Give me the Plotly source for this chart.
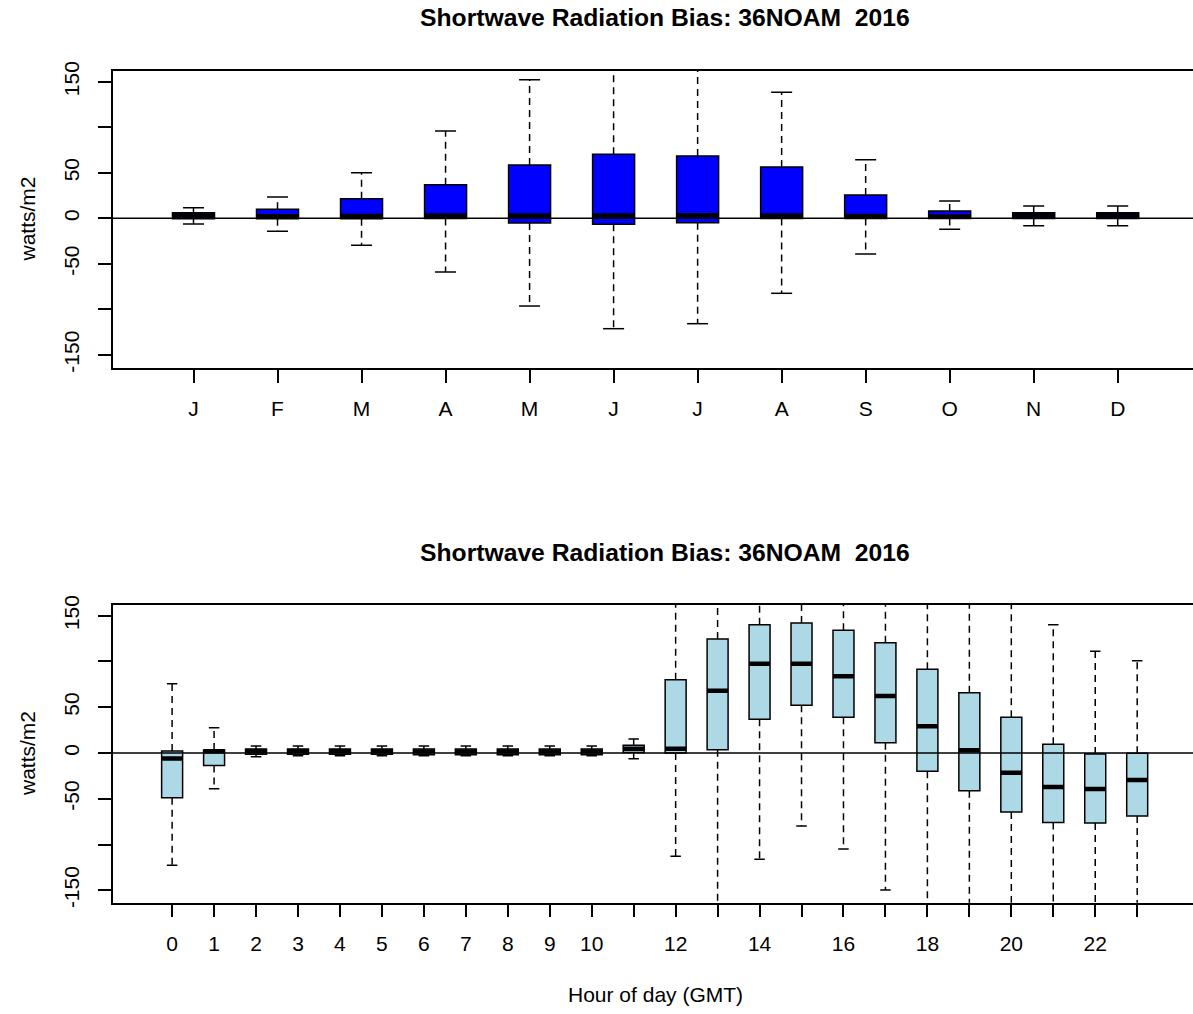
import plotly.graph_objects as go

# ---------------- data ----------------
month_labels = ["J", "F", "M", "A", "M", "J", "J", "A", "S", "O", "N", "D"]
month_q1 = [-0.5, -0.5, -0.5, -0.3, -5.2, -6.6, -4.8, -0.3, -0.3, -0.3, -0.3, -0.3]
month_med = [3, 2.2, 2.5, 3, 3.2, 3, 3.3, 3, 2.5, 2, 3, 3]
month_q3 = [6, 10, 21.5, 37, 58.5, 70.5, 68.5, 56.5, 25.5, 8, 6, 6]
month_lo = [-6.3, -14.3, -29.7, -59, -96.4, -121.3, -115.8, -82.4, -39.2, -12, -8.1, -8.1]
month_hi = [11.6, 23.4, 50, 96, 152.3, 200, 200, 138.5, 64.4, 19, 13.5, 13.5]

hours = list(range(24))
hour_labels = ["0", "1", "2", "3", "4", "5", "6", "7", "8", "9", "10", "",
               "12", "", "14", "", "16", "", "18", "", "20", "", "22", ""]
hour_q1 = [-48.8, -13.8, -1.5, -1.5, -1.5, -1.5, -2, -2, -2, -2, -2, 0.5,
           0, 3.6, 36.8, 52.1, 39, 11.3, -20, -41.2, -64.5, -76.1, -76.5, -68.8]
hour_med = [-6, 2, 2, 2, 2, 2, 1.5, 1.5, 1.5, 1.5, 1.5, 4.5,
            4.5, 68, 97.6, 97.6, 83.8, 62.3, 29.2, 2.9, -21.5, -37.1, -39.3, -29.5]
hour_q3 = [2.2, 3.3, 4.4, 4.4, 4.4, 4.4, 4.4, 4.4, 4.4, 4.4, 4.4, 8.4,
           80.1, 124.5, 140.2, 142, 134, 120.5, 91.4, 65.9, 39, 9.5, -1.1, -0.4]
hour_lo = [-122.7, -39, -4, -3, -3, -3, -3, -3, -3, -3, -3, -6.2,
           -112.9, -200, -116, -79.8, -104.9, -149.7, -200, -200, -200, -200, -200, -200]
hour_hi = [75.7, 27.7, 7.6, 7.6, 7.6, 7.6, 7.6, 7.6, 7.6, 7.6, 7.6, 15.3,
           200, 200, 200, 200, 200, 200, 200, 200, 200, 140.2, 111.1, 100.9]

y_ticks = [-150, -100, -50, 0, 50, 100, 150]
y_ticktext = ["-150", "", "-50", "0", "50", "", "150"]

title_text = "<b>Shortwave Radiation Bias: 36NOAM  2016</b>"

# ---------------- figure ----------------
W, H = 1193, 1014
FONT = "Liberation Sans, Arial, sans-serif"
BOXW = 0.5
CAPW = 0.25


def px(sx):
    return sx / W


def py(sy):
    return 1 - sy / H


fig = go.Figure()


def add_boxes(pos, q1, med, q3, lo, hi, fill, xa, ya):
    fig.add_trace(go.Bar(
        x=pos, base=q1, y=[b - a for a, b in zip(q1, q3)], width=BOXW,
        marker=dict(color=fill, line=dict(color="black", width=1.5)),
        xaxis=xa, yaxis=ya, showlegend=False, hoverinfo="skip"))
    wx, wy, cx, cy, mx, my = [], [], [], [], [], []
    for p, a, m, b, l, h in zip(pos, q1, med, q3, lo, hi):
        wx += [p, p, None, p, p, None]
        wy += [b, h, None, a, l, None]
        cx += [p - CAPW / 2, p + CAPW / 2, None, p - CAPW / 2, p + CAPW / 2, None]
        cy += [h, h, None, l, l, None]
        mx += [p - BOXW / 2, p + BOXW / 2, None]
        my += [m, m, None]
    fig.add_trace(go.Scatter(x=wx, y=wy, mode="lines", xaxis=xa, yaxis=ya,
                             line=dict(color="black", width=1.5, dash="7px,5px"),
                             showlegend=False, hoverinfo="skip"))
    fig.add_trace(go.Scatter(x=cx, y=cy, mode="lines", xaxis=xa, yaxis=ya,
                             line=dict(color="black", width=1.5),
                             showlegend=False, hoverinfo="skip"))
    fig.add_trace(go.Scatter(x=mx, y=my, mode="lines", xaxis=xa, yaxis=ya,
                             line=dict(color="black", width=4.5),
                             showlegend=False, hoverinfo="skip"))


month_pos = list(range(1, len(month_labels) + 1))
add_boxes(month_pos, month_q1, month_med, month_q3, month_lo, month_hi,
          "#0000FF", "x", "y")
add_boxes(hours, hour_q1, hour_med, hour_q3, hour_lo, hour_hi,
          "#ADD8E6", "x2", "y2")

axis_common = dict(showgrid=False, zeroline=False, showline=True,
                   linecolor="black", linewidth=1.5, ticks="outside",
                   ticklen=13, tickwidth=1.5, tickcolor="black", automargin=False,
                   tickfont=dict(family=FONT, size=21, color="black"))

fig.update_layout(
    width=W, height=H, margin=dict(l=0, r=0, t=0, b=0, autoexpand=False),
    paper_bgcolor="white", plot_bgcolor="white", barmode="overlay",
    font=dict(family=FONT, color="black"),
    xaxis=dict(domain=[px(112.5), 1], range=[0.036, 12.896], tickvals=month_pos,
               ticktext=month_labels, mirror=True, anchor="y",
               ticklabelstandoff=8, **axis_common),
    yaxis=dict(domain=[py(368), py(71)], range=[-164.5, 161.9],
               tickvals=y_ticks, ticktext=y_ticktext, tickangle=-90,
               anchor="x", ticklabelstandoff=10, **axis_common),
    xaxis2=dict(domain=[px(112.5), 1], range=[-1.421, 24.33], tickvals=hours,
                ticktext=hour_labels, mirror=True, anchor="y2",
                ticklabelstandoff=8, **axis_common),
    yaxis2=dict(domain=[py(902.7), py(605)], range=[-163.6, 161.7],
                tickvals=y_ticks, ticktext=y_ticktext, tickangle=-90,
                anchor="x2", ticklabelstandoff=10, **axis_common),
)

fig.add_shape(type="line", xref="x domain", yref="y", x0=0, x1=1, y0=0, y1=0,
              line=dict(color="black", width=1.5), layer="above")
fig.add_shape(type="line", xref="x2 domain", yref="y2", x0=0, x1=1, y0=0, y1=0,
              line=dict(color="black", width=1.5), layer="above")

ann = [
    dict(text=title_text, x=px(665), y=py(18), font=dict(size=24.7)),
    dict(text=title_text, x=px(665), y=py(552), font=dict(size=24.7)),
    dict(text="watts/m2", x=px(27), y=py(219.5), textangle=-90, font=dict(size=21)),
    dict(text="watts/m2", x=px(27), y=py(754), textangle=-90, font=dict(size=21)),
    dict(text="Hour of day (GMT)", x=px(655), y=py(994), font=dict(size=21)),
]
for a in ann:
    a.update(xref="paper", yref="paper", showarrow=False,
             xanchor="center", yanchor="middle")
    a["font"].update(family=FONT, color="black")
    fig.add_annotation(**a)

# remove the browser's default 8px body margin so the figure fills the window
fig.write_html("out.html",
               config={"displayModeBar": False},
               post_script="document.body.style.margin='0';"
                           "document.body.style.overflow='hidden';")
